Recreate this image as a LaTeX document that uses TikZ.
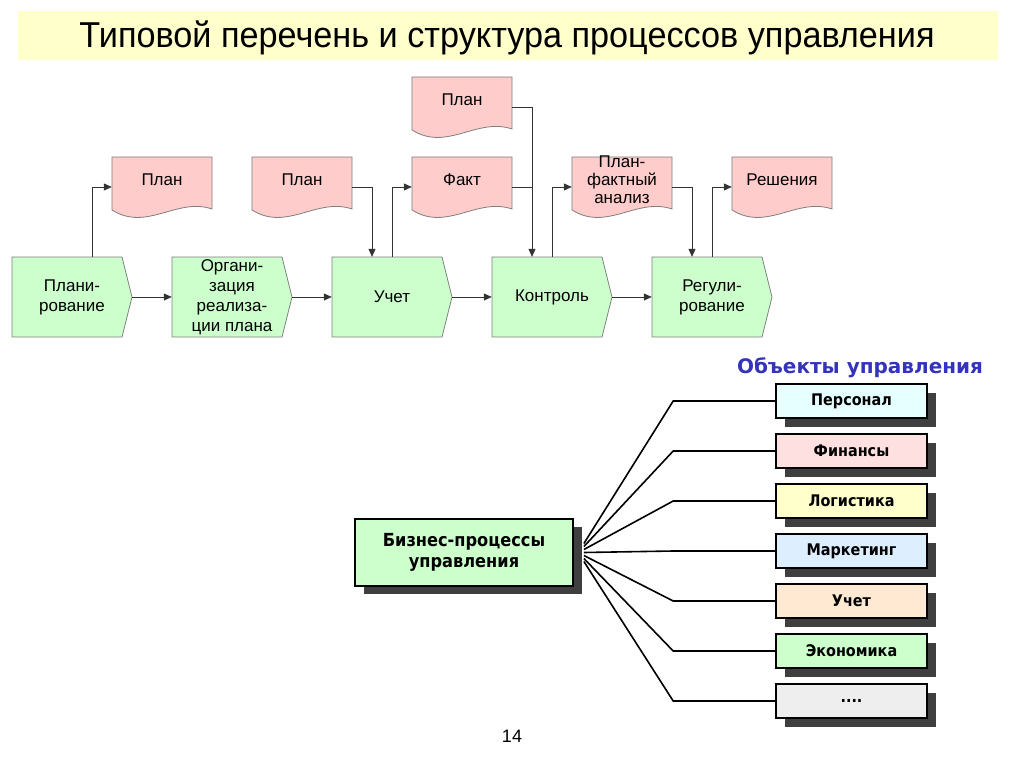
\documentclass[tikz,border=0pt]{standalone}
\usepackage{fontspec}
\setmainfont{Liberation Sans}
\newfontfamily\labelfont[FakeStretch=0.9]{DejaVu Sans}
\newfontfamily\headfont{DejaVu Sans}
\usetikzlibrary{arrows.meta,shadows,calc}

\definecolor{bandyellow}{HTML}{FFFFCC}
\definecolor{procgreen}{HTML}{CCFFCC}
\definecolor{docpink}{HTML}{FFCCCC}
\definecolor{edgegray}{HTML}{7F7F7F}
\definecolor{wiregray}{HTML}{333333}
\definecolor{shadowgray}{HTML}{3F3F3F}
\definecolor{headblue}{HTML}{3333BB}
\definecolor{cPers}{HTML}{E6FFFF}
\definecolor{cFin}{HTML}{FFE0E0}
\definecolor{cLog}{HTML}{FFFFCC}
\definecolor{cMark}{HTML}{DDEEFF}
\definecolor{cAcc}{HTML}{FFE9D2}
\definecolor{cEco}{HTML}{CCFFCC}
\definecolor{cMore}{HTML}{EEEEEE}

\newcommand{\moredots}{....}

\tikzset{
  procshape/.style={fill=procgreen, draw=edgegray, line width=0.8pt},
  proctext/.style={minimum width=120pt, minimum height=80pt, inner sep=0pt,
    align=center, font=\fontsize{17}{20}\selectfont},
  docshape/.style={fill=docpink, draw=edgegray, line width=0.8pt},
  docanchor/.style={minimum width=100pt, minimum height=60pt, inner sep=0pt},
  doctext/.style={inner sep=0pt, align=center, font=\fontsize{17}{18}\selectfont},
  conn/.style={draw=wiregray, line width=0.8pt, -{Triangle[length=8pt,width=7pt]}},
  wire/.style={draw=wiregray, line width=0.8pt},
  objbox/.style={draw=black, line width=1.6pt, minimum width=151pt, minimum height=34pt,
    font=\labelfont\fontsize{16}{18}\selectfont\bfseries,
    drop shadow={shadow xshift=9pt, shadow yshift=-9pt, fill=shadowgray, opacity=1}},
  link/.style={draw=black, line width=1.6pt},
}

% process block: name, left x, text
\newcommand{\procbox}[3]{%
  \filldraw[procshape] (#2,257) -- (#2+110,257) -- (#2+120,297) -- (#2+110,337) -- (#2,337) -- cycle;
  \node[proctext] (#1) at (#2+60,297) {#3};
}
% document block: name, left x, top y, text
\newcommand{\docbox}[4]{%
  \filldraw[docshape] (#2,#3) -- ++(100,0) -- ++(0,52)
    .. controls +(-35,-12) and +(35,22) .. ++(-100,1) -- cycle;
  \node[docanchor] (#1) at (#2+50,#3+30) {};
  \node[doctext] (#1-txt) at (#2+50,#3+23) {#4};
}

\begin{document}
\begin{tikzpicture}[x=1pt, y=-1pt]
  \useasboundingbox[fill=white] (0,0) rectangle (1024,767);

  % title
  \fill[bandyellow] (18,11) rectangle (998,60);
  \node[inner sep=0pt] (title) at (507,38)
    {\fontsize{36}{40}\selectfont\resizebox{855pt}{\height}{Типовой перечень и структура процессов управления}};

  % processes
  \procbox{plan}{12}{Плани-\\рование}
  \procbox{org}{172}{Органи-\\зация\\реализа-\\ции плана}
  \procbox{uchet}{332}{Учет}
  \procbox{kontrol}{492}{Контроль}
  \procbox{regul}{652}{Регули-\\рование}

  % documents
  \docbox{doctop}{412}{77}{План}
  \docbox{docplan}{112}{157}{План}
  \docbox{docplanb}{252}{157}{План}
  \docbox{docfakt}{412}{157}{Факт}
  \docbox{docpfa}{572}{157}{План-\\фактный\\анализ}
  \docbox{docresh}{732}{157}{Решения}

  % flow
  \draw[conn] (plan.east) -- (org.west);
  \draw[conn] (org.east) -- (uchet.west);
  \draw[conn] (uchet.east) -- (kontrol.west);
  \draw[conn] (kontrol.east) -- (regul.west);

  \coordinate (kin) at ([xshift=-20pt]kontrol.north);
  \draw[conn] ([xshift=20pt]plan.north) |- (docplan.west);
  \draw[conn] (docplanb.east) -| ([xshift=-20pt]uchet.north);
  \draw[conn] (uchet.north) |- (docfakt.west);
  \draw[conn] (doctop.east) -| (kin);
  \draw[wire] (docfakt.east) -- (docfakt.east -| kin);
  \draw[conn] (kontrol.north) |- (docpfa.west);
  \draw[conn] (docpfa.east) -| ([xshift=-20pt]regul.north);
  \draw[conn] (regul.north) |- (docresh.west);

  % objects of management
  \node[text=headblue, font=\headfont\fontsize{20}{22}\selectfont\bfseries] (objhead) at (860,368) {Объекты управления};

  \node[draw=black, line width=1.8pt, fill=procgreen, minimum width=218pt, minimum height=67pt,
    align=center, font=\labelfont\fontsize{18}{21}\selectfont\bfseries,
    drop shadow={shadow xshift=9pt, shadow yshift=-8pt, fill=shadowgray, opacity=1}]
    (biz) at (464,552.5) {Бизнес-процессы\\управления};

  \foreach \name/\txt/\col [count=\i] in {pers/Персонал/cPers, fin/Финансы/cFin,
      log/Логистика/cLog, mark/Маркетинг/cMark, acc/Учет/cAcc, eco/Экономика/cEco, more/\moredots/cMore}{
    \node[objbox, fill=\col] (\name) at (851.5,351+50*\i) {\txt};
    \draw[link] (\name.west) -- ++(-102,0) -- ($(biz.east)+(10,3*\i-12)$);
  }

  % page number
  \node[font=\fontsize{18}{20}\selectfont] (pagenum) at (512,736) {14};
\end{tikzpicture}
\end{document}
